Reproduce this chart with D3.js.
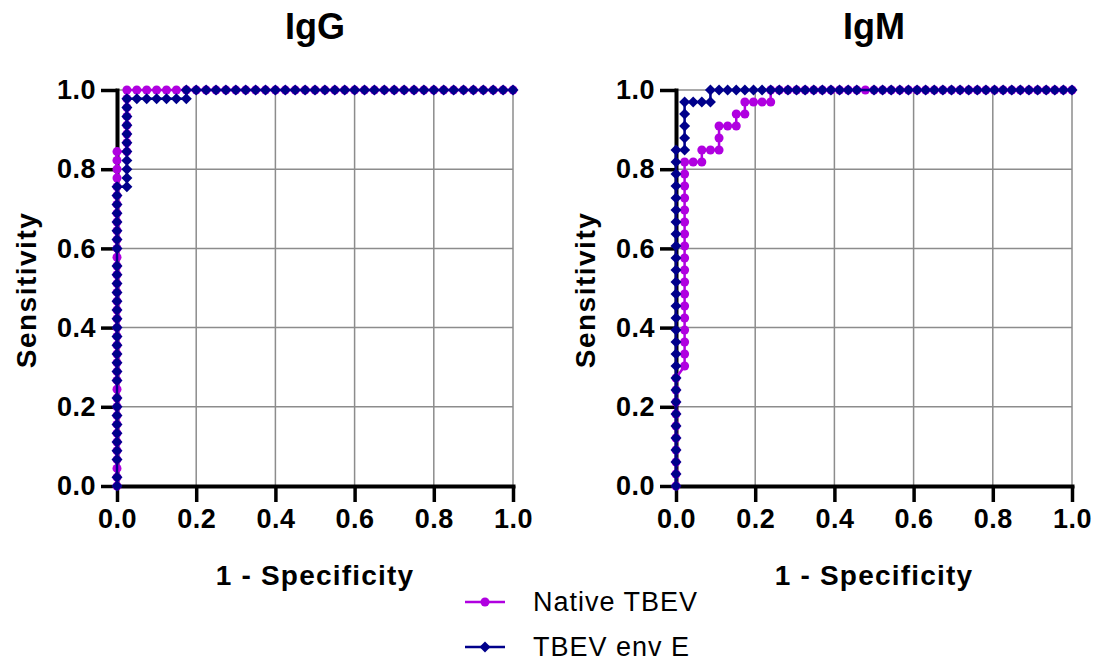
<!DOCTYPE html>
<html>
<head>
<meta charset="utf-8">
<script src="https://cdn.jsdelivr.net/npm/d3@7"></script>
<style>
  body { margin: 0; background: #fff; }
  svg text { font-family: "Liberation Sans", Arial, sans-serif; fill: #000; }
</style>
</head>
<body>
<svg id="chart" width="1095" height="663"></svg>
<script>
"use strict";

// panel titles and axis ticks
const panelTitles = ["IgG", "IgM"];
const tickValues = [0, 0.2, 0.4, 0.6, 0.8, 1.0];
const seriesNames = ["Native TBEV", "TBEV env E"];

// group sizes (negatives, positives) read from point spacing
const igGNeg = 40, igGPos = 45;
const igMNeg = 46, igMPos = 33;

// ROC points as [false positives, true positives] counts
const igGNative = [
  [0,0],[0,1],[0,2],[0,3],[0,4],[0,5],[0,6],[0,7],[0,8],[0,9],[0,10],[0,11],[0,12],[0,13],[0,14],[0,15],[0,16],[0,17],[0,18],[0,19],
  [0,20],[0,21],[0,22],[0,23],[0,24],[0,25],[0,26],[0,27],[0,28],[0,29],[0,30],[0,31],[0,32],[0,33],[0,34],[0,35],[0,36],[0,37],[0,38],
  [1,38],[1,39],[1,40],[1,41],[1,42],[1,43],[1,44],[1,45],
  [2,45],[3,45],[4,45],[5,45],[6,45],[7,45],[8,45],[9,45],[10,45],[11,45],[12,45],[13,45],[14,45],[15,45],[16,45],[17,45],[18,45],[19,45],[20,45],
  [21,45],[22,45],[23,45],[24,45],[25,45],[26,45],[27,45],[28,45],[29,45],[30,45],[31,45],[32,45],[33,45],[34,45],[35,45],[36,45],[37,45],[38,45],[39,45],[40,45]
];
const igGEnvE = [
  [0,0],[0,1],[0,3],[0,4],[0,5],[0,6],[0,7],[0,8],[0,9],[0,10],[0,12],[0,13],[0,14],[0,15],[0,16],[0,17],[0,18],[0,19],
  [0,20],[0,21],[0,22],[0,23],[0,24],[0,25],[0,27],[0,28],[0,29],[0,30],[0,31],[0,32],[0,33],[0,34],
  [1,34],[1,35],[1,36],[1,37],[1,38],[1,39],[1,40],[1,41],[1,42],[1,43],[1,44],
  [2,44],[3,44],[4,44],[5,44],[6,44],[7,44],
  [7,45],[8,45],[9,45],[10,45],[11,45],[12,45],[13,45],[14,45],[15,45],[16,45],[17,45],[18,45],[19,45],[20,45],
  [21,45],[22,45],[23,45],[24,45],[25,45],[26,45],[27,45],[28,45],[29,45],[30,45],[31,45],[32,45],[33,45],[34,45],[35,45],[36,45],[37,45],[38,45],[39,45],[40,45]
];
const igMNative = [
  [0,0],[0,1],[0,2],[0,3],[0,4],[0,5],[0,6],[0,7],[0,8],[0,9],
  [1,10],[1,11],[1,12],[1,13],[1,14],[1,15],[1,16],[1,17],[1,18],[1,19],[1,20],[1,21],[1,22],[1,23],[1,24],[1,25],[1,26],[1,27],
  [2,27],[3,27],[3,28],[4,28],[5,28],[5,29],[5,30],[6,30],[7,30],[7,31],[8,31],[8,32],[9,32],[10,32],[11,32],[11,33],
  [12,33],[13,33],[14,33],[15,33],[16,33],[17,33],[18,33],[19,33],[20,33],[21,33],[22,33],[23,33],[24,33],[25,33],[26,33],
  [27,33],[28,33],[29,33],[30,33],[31,33],[32,33],[33,33],[34,33],[35,33],[36,33],[37,33],[38,33],[39,33],[40,33],
  [41,33],[42,33],[43,33],[44,33],[45,33],[46,33]
];
const igMEnvE = [
  [0,0],[0,1],[0,2],[0,3],[0,4],[0,5],[0,6],[0,7],[0,8],[0,9],[0,10],[0,11],[0,12],[0,13],[0,14],[0,15],[0,16],[0,17],[0,18],[0,19],
  [0,20],[0,21],[0,22],[0,23],[0,24],[0,25],[0,26],[0,27],[0,28],
  [1,28],[1,29],[1,30],[1,31],[1,32],[2,32],[3,32],[4,32],
  [4,33],[5,33],[6,33],[7,33],[8,33],[9,33],[10,33],[11,33],[12,33],[13,33],[14,33],[15,33],[16,33],[17,33],[18,33],[19,33],[20,33],
  [21,33],[23,33],[24,33],[25,33],[26,33],[27,33],[28,33],[29,33],[30,33],[31,33],[32,33],[33,33],[34,33],[35,33],[36,33],[37,33],[38,33],
  [39,33],[40,33],[41,33],[42,33],[43,33],[44,33],[45,33],[46,33]
];

const colors = ["#b000e0", "#00008b"];

const panels = [
  { title: panelTitles[0], left: 117, neg: igGNeg, pos: igGPos, series: [igGNative, igGEnvE] },
  { title: panelTitles[1], left: 676, neg: igMNeg, pos: igMPos, series: [igMNative, igMEnvE] }
];

const svg = d3.select("#chart");
const plotTop = 90, plotSize = 396;

// diamond marker path
function diamond(r) {
  return `M0,${-r}L${r},0L0,${r}L${-r},0Z`;
}

panels.forEach(p => {
  let x = d3.scaleLinear().domain([0, 1]).range([p.left, p.left + plotSize]);
  let y = d3.scaleLinear().domain([0, 1]).range([plotTop + plotSize, plotTop]);
  let g = svg.append("g");

  // grid
  g.append("g").selectAll("line").data(tickValues.slice(1)).enter().append("line")
    .attr("x1", d => x(d)).attr("x2", d => x(d)).attr("y1", y(0)).attr("y2", y(1))
    .attr("stroke", "#8c8c8c").attr("stroke-width", 1.5);
  g.append("g").selectAll("line").data(tickValues.slice(1)).enter().append("line")
    .attr("x1", x(0)).attr("x2", x(1)).attr("y1", d => y(d)).attr("y2", d => y(d))
    .attr("stroke", "#8c8c8c").attr("stroke-width", 1.5);

  // axes
  let xAxis = g.append("g").attr("transform", `translate(0,${y(0)})`)
    .call(d3.axisBottom(x).tickValues(tickValues).tickFormat(d3.format(".1f")).tickSize(16).tickSizeOuter(0).tickPadding(7));
  let yAxis = g.append("g").attr("transform", `translate(${x(0)},0)`)
    .call(d3.axisLeft(y).tickValues(tickValues).tickFormat(d3.format(".1f")).tickSize(16).tickSizeOuter(0).tickPadding(5));
  [xAxis, yAxis].forEach(a => {
    a.select(".domain").attr("stroke", "#000").attr("stroke-width", 4).attr("stroke-linecap", "square");
    a.selectAll(".tick line").attr("stroke", "#000").attr("stroke-width", 3.5);
    a.selectAll(".tick text").attr("font-size", 27).attr("font-weight", "bold")
      .attr("letter-spacing", 0.5).style("font-family", "Liberation Sans, Arial, sans-serif");
  });

  // curves: native first, env E on top
  p.series.forEach((s, i) => {
    let pts = s.map(d => [x(d[0] / p.neg), y(d[1] / p.pos)]);
    g.append("path").attr("d", d3.line()(pts)).attr("fill", "none")
      .attr("stroke", colors[i]).attr("stroke-width", 2.5);
    let m = g.append("g").selectAll("path").data(pts).enter();
    if (i === 0) {
      m.append("circle").attr("cx", d => d[0]).attr("cy", d => d[1]).attr("r", 4.5).attr("fill", colors[i]);
    } else {
      m.append("path").attr("d", diamond(5.5)).attr("transform", d => `translate(${d[0]},${d[1]})`).attr("fill", colors[i]);
    }
  });

  // titles
  svg.append("text").attr("x", x(0.5)).attr("y", 39).attr("text-anchor", "middle")
    .attr("font-size", 36).attr("font-weight", "bold").text(p.title);
  svg.append("text").attr("x", x(0.5)).attr("y", 585).attr("text-anchor", "middle")
    .attr("font-size", 28).attr("font-weight", "bold").attr("letter-spacing", 1.2).text("1 - Specificity");
  svg.append("text").attr("transform", `translate(${p.left - 81},${y(0.5) + 2}) rotate(-90)`)
    .attr("text-anchor", "middle").attr("font-size", 28).attr("font-weight", "bold")
    .attr("letter-spacing", 1.5).text("Sensitivity");
});

// legend
const legY = [602, 647];
seriesNames.forEach((name, i) => {
  let lg = svg.append("g");
  lg.append("line").attr("x1", 465).attr("x2", 505).attr("y1", legY[i]).attr("y2", legY[i])
    .attr("stroke", colors[i]).attr("stroke-width", 2.5);
  if (i === 0) {
    lg.append("circle").attr("cx", 485).attr("cy", legY[i]).attr("r", 4.5).attr("fill", colors[i]);
  } else {
    lg.append("path").attr("d", diamond(5.5)).attr("transform", `translate(485,${legY[i]})`).attr("fill", colors[i]);
  }
  lg.append("text").attr("x", 533).attr("y", legY[i] + 9).attr("font-size", 27)
    .attr("letter-spacing", 1).text(name);
});
</script>
</body>
</html>
